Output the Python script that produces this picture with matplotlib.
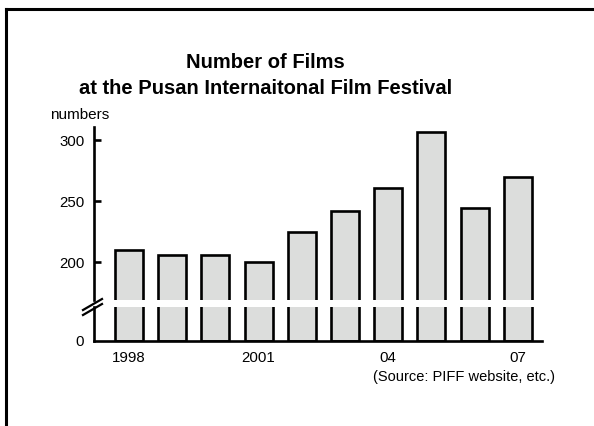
import matplotlib
matplotlib.use("Agg")
import matplotlib.pyplot as plt
from matplotlib.lines import Line2D

plt.rcParams["font.family"] = ["Liberation Sans", "DejaVu Sans"]

years = [1998, 1999, 2000, 2001, 2002, 2003, 2004, 2005, 2006, 2007]
films = [210, 206, 206, 200, 225, 242, 261, 307, 244, 270]
tick_years = [1998, 2001, 2004, 2007]
tick_labels = ["1998", "2001", "04", "07"]
y_ticks = [200, 250, 300]

W, H = 594, 426
fig = plt.figure(figsize=(W / 100, H / 100), dpi=100)


def fx(px):
    return px / W


def fy(py):
    return 1 - py / H


left, right = 94, 542
ax_top = fig.add_axes([fx(left), fy(300), fx(right - left), fy(127) - fy(300)])
ax_bot = fig.add_axes([fx(left), fy(341), fx(right - left), fy(307) - fy(341)])

bar_style = dict(width=0.65, color="#dcdddc", edgecolor="black", linewidth=1.9)

for ax in (ax_top, ax_bot):
    ax.bar(years, films, **bar_style)
    ax.set_xlim(1997.19, 2007.56)
    for s in ("top", "right"):
        ax.spines[s].set_visible(False)
    ax.spines["left"].set_linewidth(1.9)
    ax.tick_params(axis="y", direction="in", length=5, width=1.9,
                   labelsize=10.8, pad=7)

ax_top.set_ylim(168.9, 310.7)
ax_top.spines["bottom"].set_visible(False)
ax_top.set_yticks(y_ticks)
ax_top.set_xticks([])

ax_bot.set_ylim(0, 27.9)
ax_bot.spines["bottom"].set_linewidth(1.9)
ax_bot.set_yticks([0])
ax_bot.tick_params(axis="y", length=0)
ax_bot.set_xticks(tick_years)
ax_bot.set_xticklabels(tick_labels)
ax_bot.tick_params(axis="x", length=0, labelsize=10.8, pad=7)

# break marks on the y axis
for dy in (0, 5):
    fig.add_artist(Line2D([fx(83), fx(102)], [fy(315 - dy), fy(304 - dy)],
                          color="black", linewidth=1.6))

fig.text(fx(265), fy(63), "Number of Films", ha="center", va="center",
         fontsize=14.5, fontweight="bold")
fig.text(fx(266), fy(88), "at the Pusan Internaitonal Film Festival",
         ha="center", va="center", fontsize=14.5, fontweight="bold")
fig.text(fx(50), fy(115), "numbers", ha="left", va="center", fontsize=11)
fig.text(fx(555), fy(377), "(Source: PIFF website, etc.)", ha="right",
         va="center", fontsize=10.5)

# frame
fig.add_artist(Line2D([fx(5.5), fx(5.5)], [fy(8.5), 0], color="black",
                      linewidth=2.2))
fig.add_artist(Line2D([fx(5.5), fx(593)], [fy(8.5), fy(8.5)], color="black",
                      linewidth=2.2))

fig.savefig("out.png", dpi=100)
